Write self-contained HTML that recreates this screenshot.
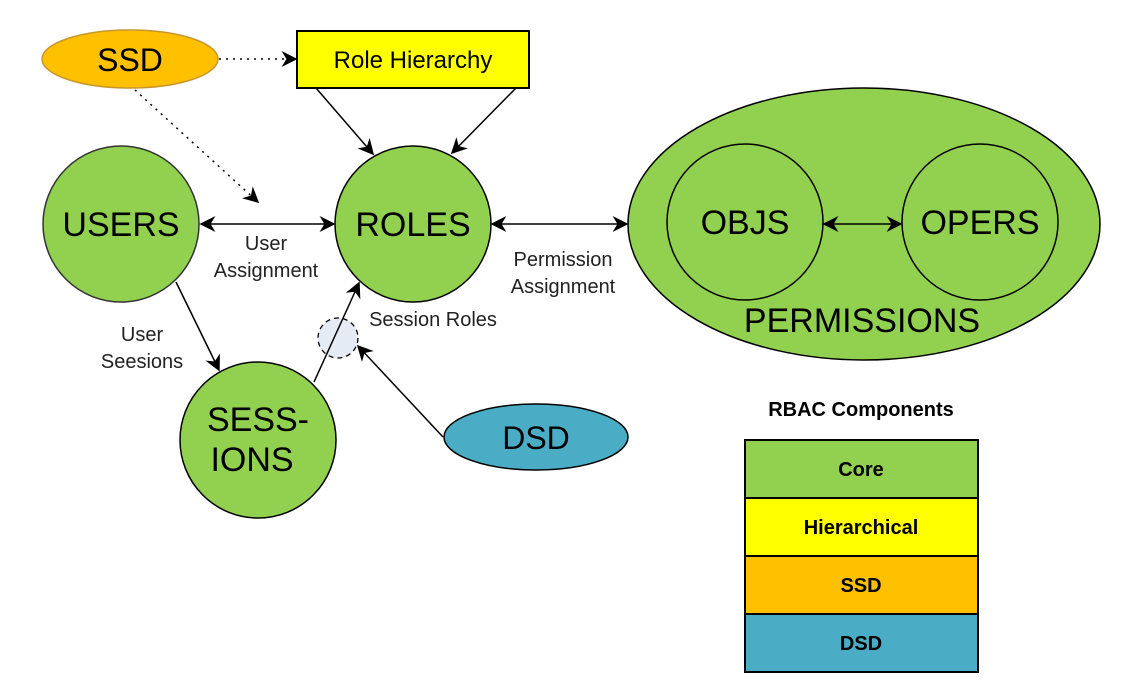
<!DOCTYPE html>
<html><head><meta charset="utf-8"><style>
html,body{margin:0;padding:0;background:#fff;}
svg{display:block;font-family:"Liberation Sans",Arial,sans-serif;}
</style></head><body>
<svg width="1131" height="681" viewBox="0 0 1131 681" xmlns="http://www.w3.org/2000/svg">
<defs>
<marker id="a" viewBox="0 0 10 10" refX="9" refY="5" markerWidth="7" markerHeight="7" orient="auto-start-reverse" markerUnits="userSpaceOnUse">
<path d="M0,0 L10,5 L0,10 L3,5 Z" fill="#000"/></marker>
<marker id="b" viewBox="0 0 10 10" refX="9" refY="5" markerWidth="16" markerHeight="16" orient="auto-start-reverse" markerUnits="userSpaceOnUse">
<path d="M0,0 L10,5 L0,10 L3,5 Z" fill="#000"/></marker>
</defs>
<rect width="1131" height="681" fill="#fff"/>
<!-- Permissions -->
<ellipse cx="864" cy="224" rx="236" ry="136" fill="#92d050" stroke="#000" stroke-width="1.5"/>
<circle cx="745" cy="222" r="78" fill="#92d050" stroke="#000" stroke-width="1.5"/>
<circle cx="980" cy="222" r="78" fill="#92d050" stroke="#000" stroke-width="1.5"/>
<text x="745" y="234" font-size="34" text-anchor="middle">OBJS</text>
<text x="980" y="234" font-size="34" text-anchor="middle">OPERS</text>
<text x="862" y="332" font-size="34" text-anchor="middle">PERMISSIONS</text>
<!-- SSD & RH -->
<ellipse cx="130" cy="59" rx="88" ry="29" fill="#ffc000" stroke="#c8962a" stroke-width="1.5"/>
<text x="130" y="71" font-size="32" text-anchor="middle">SSD</text>
<rect x="297" y="31" width="232" height="57" fill="#ffff00" stroke="#000" stroke-width="2"/>
<text x="413" y="68" font-size="24" text-anchor="middle">Role Hierarchy</text>
<!-- circles -->
<circle cx="121" cy="224" r="78" fill="#92d050" stroke="#333" stroke-width="1.5"/>
<text x="121" y="236" font-size="34" text-anchor="middle">USERS</text>
<circle cx="413" cy="224" r="78" fill="#92d050" stroke="#000" stroke-width="1.5"/>
<text x="413" y="236" font-size="34" text-anchor="middle">ROLES</text>
<circle cx="258" cy="440" r="78" fill="#92d050" stroke="#000" stroke-width="1.5"/>
<text x="258" y="431" font-size="34" text-anchor="middle">SESS-</text>
<text x="252" y="471" font-size="34" text-anchor="middle">IONS</text>
<ellipse cx="536" cy="437" rx="92" ry="33" fill="#4bacc6" stroke="#000" stroke-width="1.5"/>
<text x="536" y="449" font-size="32" text-anchor="middle">DSD</text>
<circle cx="338" cy="338" r="20" fill="#e4ebf5" stroke="#000" stroke-width="1.3" stroke-dasharray="5,4"/>
<!-- connectors -->
<line x1="219" y1="59" x2="296" y2="59" stroke="#000" stroke-width="1.5" stroke-dasharray="2,5" marker-end="url(#b)"/>
<line x1="135" y1="90" x2="258" y2="202" stroke="#000" stroke-width="1.5" stroke-dasharray="2,5" marker-end="url(#b)"/>
<line x1="316" y1="88" x2="373" y2="154" stroke="#000" stroke-width="1.5" marker-end="url(#b)"/>
<line x1="516" y1="88" x2="452" y2="153" stroke="#000" stroke-width="1.5" marker-end="url(#b)"/>
<line x1="201" y1="224" x2="334" y2="224" stroke="#000" stroke-width="1.5" marker-start="url(#b)" marker-end="url(#b)"/>
<line x1="492" y1="224" x2="627" y2="224" stroke="#000" stroke-width="1.5" marker-start="url(#b)" marker-end="url(#b)"/>
<line x1="824" y1="224" x2="901" y2="224" stroke="#000" stroke-width="1.5" marker-start="url(#b)" marker-end="url(#b)"/>
<line x1="176" y1="282" x2="219" y2="370" stroke="#000" stroke-width="1.5" marker-end="url(#b)"/>
<line x1="314" y1="382" x2="359" y2="283" stroke="#000" stroke-width="1.5" marker-end="url(#b)"/>
<line x1="443" y1="437" x2="358" y2="346" stroke="#000" stroke-width="1.5" marker-end="url(#b)"/>
<!-- labels -->
<g font-size="20" fill="#222" text-anchor="middle">
<text x="266" y="250">User</text>
<text x="266" y="277">Assignment</text>
<text x="563" y="266">Permission</text>
<text x="563" y="293">Assignment</text>
<text x="142" y="341">User</text>
<text x="142" y="368">Seesions</text>
<text x="433" y="326">Session Roles</text>
</g>
<!-- legend -->
<text x="861" y="416" font-size="20" font-weight="bold" text-anchor="middle">RBAC Components</text>
<rect x="745" y="440" width="233" height="58" fill="#92d050" stroke="#000" stroke-width="2"/>
<rect x="745" y="498" width="233" height="58" fill="#ffff00" stroke="#000" stroke-width="2"/>
<rect x="745" y="556" width="233" height="58" fill="#ffc000" stroke="#000" stroke-width="2"/>
<rect x="745" y="614" width="233" height="58" fill="#4bacc6" stroke="#000" stroke-width="2"/>
<g font-size="20" font-weight="bold" text-anchor="middle">
<text x="861" y="476">Core</text>
<text x="861" y="534">Hierarchical</text>
<text x="861" y="592">SSD</text>
<text x="861" y="650">DSD</text>
</g>
</svg>
</body></html>
